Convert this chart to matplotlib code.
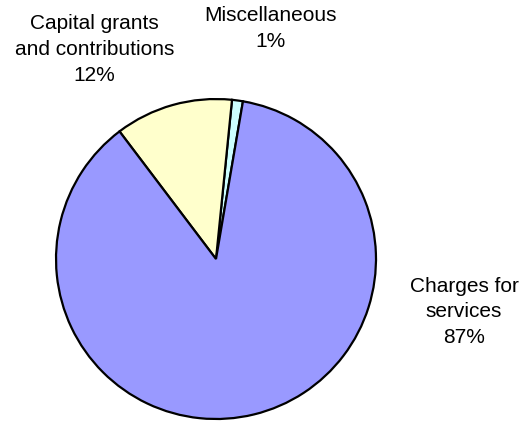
import matplotlib.pyplot as plt

# Datos del gráfico (orden antihorario desde el ángulo inicial)
categorias = ['Miscellaneous', 'Capital grants\nand contributions', 'Charges for\nservices']
porcentajes = [1.1, 11.9, 87]
etiquetas_pct = ['1%', '12%', '87%']
colores = ['#CCFFFF', '#FFFFCC', '#9999FF']

plt.rcParams['font.family'] = ['Liberation Sans', 'DejaVu Sans']

fig = plt.figure(figsize=(5.22, 4.21), dpi=100)
ax = fig.add_axes([0, 0, 1, 1])

ax.pie(porcentajes, colors=colores, startangle=80.3, counterclock=True,
       radius=1.0, wedgeprops={'edgecolor': 'black', 'linewidth': 1.6})

# Posiciones de las etiquetas (coordenadas del pie, radio 1)
pos_etiquetas = [(0.34, 1.44), (-0.76, 1.31), (1.55, -0.33)]
for cat, pct, (x, y) in zip(categorias, etiquetas_pct, pos_etiquetas):
    ax.text(x, y, f'{cat}\n{pct}', ha='center', va='center', fontsize=15,
            linespacing=1.45)

ax.set_xlim(-1.35, 1.9125)
ax.set_ylim(-1.0125, 1.619)
ax.set_aspect('equal')
ax.axis('off')

fig.savefig('out.png', dpi=100)
